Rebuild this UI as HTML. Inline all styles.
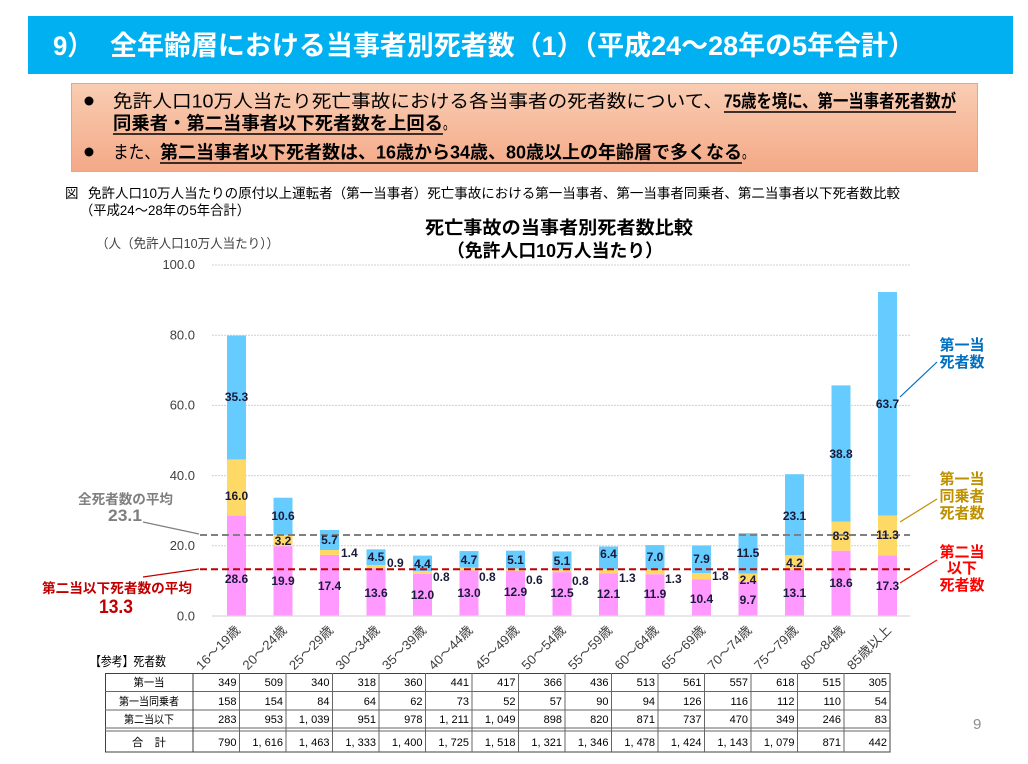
<!DOCTYPE html>
<html><head><meta charset="utf-8"><style>
html,body{margin:0;padding:0;background:#fff;}
svg{display:block;}
</style></head><body>
<svg width="1028" height="764" viewBox="0 0 1028 764" xmlns="http://www.w3.org/2000/svg" font-family="'Liberation Sans','Noto Sans CJK JP',sans-serif">
<defs>
<linearGradient id="g" x1="0" y1="0" x2="0" y2="1"><stop offset="0" stop-color="#f9cdb3"/><stop offset="1" stop-color="#f4a987"/></linearGradient>
</defs>
<rect x="0" y="0" width="1028" height="764" fill="#fff"/>
<!-- Header -->
<rect x="28" y="16" width="985" height="58" fill="#00b0f0"/>
<text x="53" y="55" font-size="27" font-weight="bold" fill="#fff" textLength="40" lengthAdjust="spacingAndGlyphs">9）</text>
<text x="110" y="55" font-size="27" font-weight="bold" fill="#fff" textLength="805" lengthAdjust="spacingAndGlyphs">全年齢層における当事者別死者数（1）（平成24～28年の5年合計）</text>

<!-- Bullet box -->
<rect x="71.5" y="83.5" width="906" height="88" fill="url(#g)" stroke="#f0a27a"/>
<circle cx="89" cy="101" r="4.5" fill="#000"/>
<circle cx="89" cy="152" r="4.5" fill="#000"/>
<g font-size="18" fill="#000">
<text x="113" y="107.5" textLength="610" lengthAdjust="spacingAndGlyphs">免許人口10万人当たり死亡事故における各当事者の死者数について、</text>
<text x="724" y="107.5" font-weight="bold" textLength="232" lengthAdjust="spacingAndGlyphs">75歳を境に、第一当事者死者数が</text>
<text x="113" y="129.5" font-weight="bold" textLength="330" lengthAdjust="spacingAndGlyphs">同乗者・第二当事者以下死者数を上回る</text>
<text x="443" y="129.5" textLength="12" lengthAdjust="spacingAndGlyphs">。</text>
<text x="113" y="158.5" textLength="47" lengthAdjust="spacingAndGlyphs">また、</text>
<text x="160" y="158.5" font-weight="bold" textLength="582" lengthAdjust="spacingAndGlyphs">第二当事者以下死者数は、16歳から34歳、80歳以上の年齢層で多くなる</text>
<text x="742" y="158.5" textLength="12" lengthAdjust="spacingAndGlyphs">。</text>
</g>
<g stroke="#000" stroke-width="1.5">
<line x1="724" y1="112" x2="956" y2="112"/>
<line x1="113" y1="134" x2="443" y2="134"/>
<line x1="160" y1="163" x2="742" y2="163"/>
</g>

<!-- Caption -->
<g font-size="13.5" fill="#000">
<text x="65" y="198">図</text>
<text x="88" y="198" textLength="812" lengthAdjust="spacingAndGlyphs">免許人口10万人当たりの原付以上運転者（第一当事者）死亡事故における第一当事者、第一当事者同乗者、第二当事者以下死者数比較</text>
<text x="80" y="215" textLength="170" lengthAdjust="spacingAndGlyphs">（平成24～28年の5年合計）</text>
</g>

<!-- Chart title -->
<text x="425" y="234" font-size="18" font-weight="bold" fill="#000" textLength="268" lengthAdjust="spacingAndGlyphs">死亡事故の当事者別死者数比較</text>
<text x="447" y="257" font-size="18" font-weight="bold" fill="#000" textLength="216" lengthAdjust="spacingAndGlyphs">（免許人口10万人当たり）</text>

<!-- Unit label -->
<text x="96" y="248" font-size="13" fill="#404040" textLength="183" lengthAdjust="spacingAndGlyphs">（人（免許人口10万人当たり））</text>

<!-- Gridlines -->
<g stroke="#d0d0d0" stroke-width="1" stroke-dasharray="2 1">
<line x1="212" y1="265" x2="910" y2="265"/>
<line x1="212" y1="335.2" x2="910" y2="335.2"/>
<line x1="212" y1="405.4" x2="910" y2="405.4"/>
<line x1="212" y1="475.6" x2="910" y2="475.6"/>
<line x1="212" y1="545.8" x2="910" y2="545.8"/>
</g>

<!-- Y tick labels -->
<g font-size="13" fill="#404040" text-anchor="end">
<text x="195" y="269">100.0</text>
<text x="195" y="339.5">80.0</text>
<text x="195" y="409.7">60.0</text>
<text x="195" y="479.9">40.0</text>
<text x="195" y="550.1">20.0</text>
<text x="195" y="620.5">0.0</text>
</g>

<!-- Bars -->
<g>
<rect x="227" y="515.61" width="19" height="100.39" fill="#ff99ff"/><rect x="227" y="459.45" width="19" height="56.16" fill="#ffd966"/><rect x="227" y="335.55" width="19" height="123.9" fill="#66ccff"/>
<rect x="273.5" y="546.15" width="19" height="69.85" fill="#ff99ff"/><rect x="273.5" y="534.92" width="19" height="11.23" fill="#ffd966"/><rect x="273.5" y="497.71" width="19" height="37.21" fill="#66ccff"/>
<rect x="320" y="554.93" width="19" height="61.07" fill="#ff99ff"/><rect x="320" y="550.01" width="19" height="4.92" fill="#ffd966"/><rect x="320" y="530" width="19" height="20.01" fill="#66ccff"/>
<rect x="366.5" y="568.26" width="19" height="47.74" fill="#ff99ff"/><rect x="366.5" y="565.1" width="19" height="3.16" fill="#ffd966"/><rect x="366.5" y="549.31" width="19" height="15.79" fill="#66ccff"/>
<rect x="413" y="573.88" width="19" height="42.12" fill="#ff99ff"/><rect x="413" y="571.07" width="19" height="2.81" fill="#ffd966"/><rect x="413" y="555.63" width="19" height="15.44" fill="#66ccff"/>
<rect x="459.5" y="570.37" width="19" height="45.63" fill="#ff99ff"/><rect x="459.5" y="567.56" width="19" height="2.81" fill="#ffd966"/><rect x="459.5" y="551.07" width="19" height="16.49" fill="#66ccff"/>
<rect x="506" y="570.72" width="19" height="45.28" fill="#ff99ff"/><rect x="506" y="568.62" width="19" height="2.1" fill="#ffd966"/><rect x="506" y="550.71" width="19" height="17.91" fill="#66ccff"/>
<rect x="552.5" y="572.13" width="19" height="43.87" fill="#ff99ff"/><rect x="552.5" y="569.32" width="19" height="2.81" fill="#ffd966"/><rect x="552.5" y="551.42" width="19" height="17.9" fill="#66ccff"/>
<rect x="599" y="573.53" width="19" height="42.47" fill="#ff99ff"/><rect x="599" y="568.97" width="19" height="4.56" fill="#ffd966"/><rect x="599" y="546.5" width="19" height="22.47" fill="#66ccff"/>
<rect x="645.5" y="574.23" width="19" height="41.77" fill="#ff99ff"/><rect x="645.5" y="569.67" width="19" height="4.56" fill="#ffd966"/><rect x="645.5" y="545.1" width="19" height="24.57" fill="#66ccff"/>
<rect x="692" y="579.5" width="19" height="36.5" fill="#ff99ff"/><rect x="692" y="573.18" width="19" height="6.32" fill="#ffd966"/><rect x="692" y="545.45" width="19" height="27.73" fill="#66ccff"/>
<rect x="738.5" y="581.95" width="19" height="34.05" fill="#ff99ff"/><rect x="738.5" y="573.53" width="19" height="8.42" fill="#ffd966"/><rect x="738.5" y="533.16" width="19" height="40.37" fill="#66ccff"/>
<rect x="785" y="570.02" width="19" height="45.98" fill="#ff99ff"/><rect x="785" y="555.28" width="19" height="14.74" fill="#ffd966"/><rect x="785" y="474.2" width="19" height="81.08" fill="#66ccff"/>
<rect x="831.5" y="550.71" width="19" height="65.29" fill="#ff99ff"/><rect x="831.5" y="521.58" width="19" height="29.13" fill="#ffd966"/><rect x="831.5" y="385.39" width="19" height="136.19" fill="#66ccff"/>
<rect x="878" y="555.28" width="19" height="60.72" fill="#ff99ff"/><rect x="878" y="515.61" width="19" height="39.67" fill="#ffd966"/><rect x="878" y="292.03" width="19" height="223.58" fill="#66ccff"/>
</g>

<!-- axis baseline -->
<line x1="212" y1="616" x2="910" y2="616" stroke="#d9d9d9" stroke-width="1.2"/>

<!-- average lines -->
<line x1="200" y1="535" x2="910" y2="535" stroke="#808080" stroke-width="2" stroke-dasharray="7 4"/>
<line x1="200" y1="569.3" x2="910" y2="569.3" stroke="#c00000" stroke-width="2" stroke-dasharray="7 4"/>

<!-- bar value labels -->
<g font-size="12" font-weight="bold" fill="#1a1a3a" text-anchor="middle">
<text x="236.5" y="583">28.6</text>
<text x="283" y="585">19.9</text>
<text x="329.5" y="590">17.4</text>
<text x="376" y="597">13.6</text>
<text x="422.5" y="599">12.0</text>
<text x="469" y="597">13.0</text>
<text x="515.5" y="596">12.9</text>
<text x="562" y="597">12.5</text>
<text x="608.5" y="598">12.1</text>
<text x="655" y="598">11.9</text>
<text x="701.5" y="603">10.4</text>
<text x="748" y="604">9.7</text>
<text x="794.5" y="597">13.1</text>
<text x="841" y="587">18.6</text>
<text x="887.5" y="590">17.3</text>
<text x="236.5" y="500">16.0</text>
<text x="283" y="545">3.2</text>
<text x="748" y="584">2.4</text>
<text x="794.5" y="567">4.2</text>
<text x="841" y="540">8.3</text>
<text x="887.5" y="539">11.3</text>
<text x="236.5" y="401">35.3</text>
<text x="283" y="520">10.6</text>
<text x="329.5" y="544">5.7</text>
<text x="376" y="561">4.5</text>
<text x="422.5" y="568">4.4</text>
<text x="469" y="564">4.7</text>
<text x="515.5" y="564">5.1</text>
<text x="562" y="565">5.1</text>
<text x="608.5" y="558">6.4</text>
<text x="655" y="561">7.0</text>
<text x="701.5" y="563">7.9</text>
<text x="748" y="557">11.5</text>
<text x="794.5" y="520">23.1</text>
<text x="841" y="458">38.8</text>
<text x="887.5" y="408">63.7</text>
</g>
<g font-size="12" font-weight="bold" fill="#1a1a3a" text-anchor="start">
<text x="341" y="557">1.4</text>
<text x="387" y="567">0.9</text>
<text x="433" y="581">0.8</text>
<text x="479" y="581">0.8</text>
<text x="526" y="584">0.6</text>
<text x="572" y="585">0.8</text>
<text x="619" y="582">1.3</text>
<text x="665" y="583">1.3</text>
<text x="712" y="580">1.8</text>
</g>

<!-- X axis labels -->
<g font-size="13" fill="#404040" text-anchor="end">
<text transform="translate(241,631) rotate(-45)" textLength="56" lengthAdjust="spacingAndGlyphs">16～19歳</text>
<text transform="translate(287.5,631) rotate(-45)" textLength="56" lengthAdjust="spacingAndGlyphs">20～24歳</text>
<text transform="translate(334,631) rotate(-45)" textLength="56" lengthAdjust="spacingAndGlyphs">25～29歳</text>
<text transform="translate(380.5,631) rotate(-45)" textLength="56" lengthAdjust="spacingAndGlyphs">30～34歳</text>
<text transform="translate(427,631) rotate(-45)" textLength="56" lengthAdjust="spacingAndGlyphs">35～39歳</text>
<text transform="translate(473.5,631) rotate(-45)" textLength="56" lengthAdjust="spacingAndGlyphs">40～44歳</text>
<text transform="translate(520,631) rotate(-45)" textLength="56" lengthAdjust="spacingAndGlyphs">45～49歳</text>
<text transform="translate(566.5,631) rotate(-45)" textLength="56" lengthAdjust="spacingAndGlyphs">50～54歳</text>
<text transform="translate(613,631) rotate(-45)" textLength="56" lengthAdjust="spacingAndGlyphs">55～59歳</text>
<text transform="translate(659.5,631) rotate(-45)" textLength="56" lengthAdjust="spacingAndGlyphs">60～64歳</text>
<text transform="translate(706,631) rotate(-45)" textLength="56" lengthAdjust="spacingAndGlyphs">65～69歳</text>
<text transform="translate(752.5,631) rotate(-45)" textLength="56" lengthAdjust="spacingAndGlyphs">70～74歳</text>
<text transform="translate(799,631) rotate(-45)" textLength="56" lengthAdjust="spacingAndGlyphs">75～79歳</text>
<text transform="translate(845.5,631) rotate(-45)" textLength="56" lengthAdjust="spacingAndGlyphs">80～84歳</text>
<text transform="translate(892,631) rotate(-45)" textLength="56" lengthAdjust="spacingAndGlyphs">85歳以上</text>
</g>

<!-- Left annotations -->
<text x="78" y="504" font-size="13.5" font-weight="bold" fill="#7f7f7f" textLength="95" lengthAdjust="spacingAndGlyphs">全死者数の平均</text>
<text x="108" y="521" font-size="17" font-weight="bold" fill="#7f7f7f" textLength="34" lengthAdjust="spacingAndGlyphs">23.1</text>
<line x1="143" y1="522" x2="199" y2="534" stroke="#7f7f7f" stroke-width="1.2"/>
<text x="42" y="593" font-size="13.5" font-weight="bold" fill="#c00000" textLength="150" lengthAdjust="spacingAndGlyphs">第二当以下死者数の平均</text>
<text x="99" y="613" font-size="19" font-weight="bold" fill="#c00000" textLength="34" lengthAdjust="spacingAndGlyphs">13.3</text>
<line x1="143" y1="577" x2="199" y2="569" stroke="#c00000" stroke-width="1.2"/>

<!-- Right annotations -->
<g font-size="15" font-weight="bold" text-anchor="middle">
<text x="962" y="350" fill="#0070c0">第一当</text>
<text x="962" y="367" fill="#0070c0">死者数</text>
<text x="962" y="484" fill="#bf9000">第一当</text>
<text x="962" y="501" fill="#bf9000">同乗者</text>
<text x="962" y="518" fill="#bf9000">死者数</text>
<text x="962" y="557" fill="#ff0000">第二当</text>
<text x="962" y="573" fill="#ff0000">以下</text>
<text x="962" y="590" fill="#ff0000">死者数</text>
</g>
<line x1="900" y1="397" x2="937" y2="362" stroke="#0070c0" stroke-width="1.2"/>
<line x1="900" y1="522" x2="937" y2="499" stroke="#bf9000" stroke-width="1.2"/>
<line x1="900" y1="583" x2="937" y2="560" stroke="#ff0000" stroke-width="1.2"/>

<!-- Table -->
<text x="90" y="666" font-size="13" fill="#000" textLength="76" lengthAdjust="spacingAndGlyphs">【参考】死者数</text>
<g stroke="#666" stroke-width="1" fill="none">
<rect x="105.5" y="673.5" width="784.5" height="78.5" stroke="#404040"/>
<line x1="105" y1="691.5" x2="890" y2="691.5"/>
<line x1="105" y1="710" x2="890" y2="710"/>
<line x1="105" y1="728" x2="890" y2="728"/>
<line x1="105" y1="731" x2="890" y2="731"/>
<line x1="193" y1="673" x2="193" y2="752" stroke="#404040"/>
<line x1="239.5" y1="673" x2="239.5" y2="752"/>
<line x1="286" y1="673" x2="286" y2="752"/>
<line x1="332.5" y1="673" x2="332.5" y2="752"/>
<line x1="379" y1="673" x2="379" y2="752"/>
<line x1="425.5" y1="673" x2="425.5" y2="752"/>
<line x1="472" y1="673" x2="472" y2="752"/>
<line x1="518.5" y1="673" x2="518.5" y2="752"/>
<line x1="565" y1="673" x2="565" y2="752"/>
<line x1="611.5" y1="673" x2="611.5" y2="752"/>
<line x1="658" y1="673" x2="658" y2="752"/>
<line x1="704.5" y1="673" x2="704.5" y2="752"/>
<line x1="751" y1="673" x2="751" y2="752"/>
<line x1="797.5" y1="673" x2="797.5" y2="752"/>
<line x1="844" y1="673" x2="844" y2="752"/>
</g>
<g font-size="11" fill="#000" text-anchor="middle">
<text x="149" y="686" textLength="31" lengthAdjust="spacingAndGlyphs">第一当</text>
<text x="149" y="705" textLength="60" lengthAdjust="spacingAndGlyphs">第一当同乗者</text>
<text x="149" y="723" textLength="50" lengthAdjust="spacingAndGlyphs">第二当以下</text>
<text x="149" y="746" textLength="34" lengthAdjust="spacingAndGlyphs">合　計</text>
</g>
<g font-size="11" fill="#000" text-anchor="end">
<text x="236.5" y="686">349</text><text x="283" y="686">509</text><text x="329.5" y="686">340</text><text x="376" y="686">318</text><text x="422.5" y="686">360</text><text x="469" y="686">441</text><text x="515.5" y="686">417</text><text x="562" y="686">366</text><text x="608.5" y="686">436</text><text x="655" y="686">513</text><text x="701.5" y="686">561</text><text x="748" y="686">557</text><text x="794.5" y="686">618</text><text x="841" y="686">515</text><text x="887" y="686">305</text>
<text x="236.5" y="705">158</text><text x="283" y="705">154</text><text x="329.5" y="705">84</text><text x="376" y="705">64</text><text x="422.5" y="705">62</text><text x="469" y="705">73</text><text x="515.5" y="705">52</text><text x="562" y="705">57</text><text x="608.5" y="705">90</text><text x="655" y="705">94</text><text x="701.5" y="705">126</text><text x="748" y="705">116</text><text x="794.5" y="705">112</text><text x="841" y="705">110</text><text x="887" y="705">54</text>
<text x="236.5" y="723">283</text><text x="283" y="723">953</text><text x="329.5" y="723">1, 039</text><text x="376" y="723">951</text><text x="422.5" y="723">978</text><text x="469" y="723">1, 211</text><text x="515.5" y="723">1, 049</text><text x="562" y="723">898</text><text x="608.5" y="723">820</text><text x="655" y="723">871</text><text x="701.5" y="723">737</text><text x="748" y="723">470</text><text x="794.5" y="723">349</text><text x="841" y="723">246</text><text x="887" y="723">83</text>
<text x="236.5" y="746">790</text><text x="283" y="746">1, 616</text><text x="329.5" y="746">1, 463</text><text x="376" y="746">1, 333</text><text x="422.5" y="746">1, 400</text><text x="469" y="746">1, 725</text><text x="515.5" y="746">1, 518</text><text x="562" y="746">1, 321</text><text x="608.5" y="746">1, 346</text><text x="655" y="746">1, 478</text><text x="701.5" y="746">1, 424</text><text x="748" y="746">1, 143</text><text x="794.5" y="746">1, 079</text><text x="841" y="746">871</text><text x="887" y="746">442</text>
</g>

<!-- page number -->
<text x="973" y="729" font-size="15" fill="#8c8c8c">9</text>
</svg>
</body></html>
